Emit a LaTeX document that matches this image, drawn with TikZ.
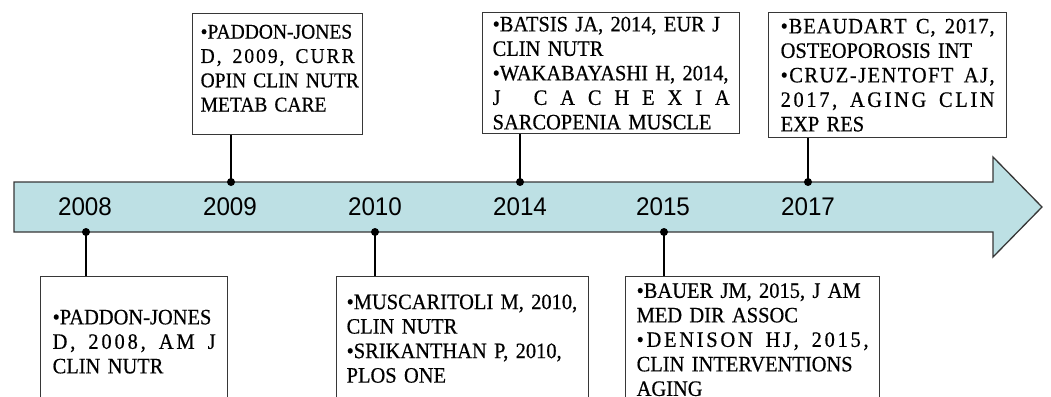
\documentclass[tikz,border=0pt]{standalone}
\usepackage{fontspec}
\setmainfont{Liberation Serif}[FakeStretch=0.93,FakeBold=0.5]
\newfontfamily\yearfont{Liberation Sans}[FakeStretch=0.95]
\setlength\parindent{0pt}
\definecolor{axisfill}{RGB}{189,224,228}
\definecolor{edgegray}{RGB}{55,55,55}
\def\spreadchars#1{\ifx#1\relax\else#1\hfill\expandafter\spreadchars\fi}
\newcommand\sline[1]{\makebox[\hsize][s]{\spreadchars#1\relax\unskip}}
\newcommand\jline[1]{\makebox[\hsize][s]{#1}}
\newcommand\lline[1]{\makebox[\hsize][l]{#1}}
\begin{document}
\begin{tikzpicture}[x=1pt,y=1pt,
  refbox/.style={draw=edgegray, line width=1.3pt, fill=white, anchor=north west,
    inner ysep=0pt, align=left, font=\fontsize{22}{24.5}\selectfont},
  yearlbl/.style={font=\yearfont\fontsize{25.5}{28}\selectfont, inner sep=0pt},
  axisarrow/.style={draw=edgegray, line width=1.3pt, fill=axisfill, line join=miter},
  conn/.style={draw=black, line width=2pt},
  dotmark/.style={fill=black}]
\useasboundingbox (0,0) rectangle (1051,-396);
\clip (0,0) rectangle (1051,-396);
% timeline arrow
\draw[axisarrow] (14,-182) -- (993,-182) -- (993,-157) -- (1042,-207) -- (993,-257) -- (993,-232) -- (14,-232) -- cycle;
% anchor points on the arrow
\coordinate (d2008) at (86,-232);
\coordinate (d2009) at (231,-182);
\coordinate (d2010) at (375,-232);
\coordinate (d2014) at (520,-182);
\coordinate (d2015) at (664,-232);
\coordinate (d2017) at (808,-182);
% years
\node[yearlbl] (y2008) at (85,-207) {2008};
\node[yearlbl] (y2009) at (230,-207) {2009};
\node[yearlbl] (y2010) at (375,-207) {2010};
\node[yearlbl] (y2014) at (520,-207) {2014};
\node[yearlbl] (y2015) at (663,-207) {2015};
\node[yearlbl] (y2017) at (808,-207) {2017};
% top boxes
\node[refbox, text width=154pt, inner xsep=8pt, minimum height=121pt,
  font=\fontsize{21}{24.3}\selectfont] (b2009) at (192,-13)
  {\lline{•PADDON-JONES}\\\sline{D,~2009,~CURR}\\\jline{OPIN CLIN NUTR}\\METAB CARE\rule[-12pt]{0pt}{0pt}};
\node[refbox, text width=237pt, inner xsep=10pt, minimum height=121pt] (b2014) at (482,-12)
  {\jline{•BATSIS JA, 2014, EUR J}\\CLIN NUTR\\\jline{•WAKABAYASHI H, 2014,}\\\sline{J~CACHEXIA}\\SARCOPENIA MUSCLE};
\node[refbox, text width=214pt, inner xsep=12pt, minimum height=125pt] (b2017) at (768,-12)
  {\sline{•BEAUDART~C,~2017,}\\OSTEOPOROSIS INT\\\sline{•CRUZ-JENTOFT~AJ,}\\\sline{2017,~AGING~CLIN}\\EXP RES};
% bottom boxes
\node[refbox, text width=163pt, inner xsep=12pt, minimum height=130pt] (b2008) at (40,-276)
  {\lline{•PADDON-JONES}\\\sline{D,~2008,~AM~J}\\CLIN NUTR};
\node[refbox, text width=232pt, inner xsep=10pt, minimum height=124pt] (b2010) at (336,-276)
  {\jline{•MUSCARITOLI M, 2010,}\\CLIN NUTR\\\jline{•SRIKANTHAN P, 2010,}\\PLOS ONE};
\node[refbox, text width=232pt, inner xsep=11pt, minimum height=126pt] (b2015) at (625,-276)
  {\jline{•BAUER JM, 2015, J AM}\\MED DIR ASSOC\\\sline{•DENISON~HJ,~2015,}\\\jline{CLIN INTERVENTIONS}\\AGING};
% connectors
\draw[conn] (b2009.south -| d2009) -- (d2009);
\draw[conn] (b2014.south -| d2014) -- (d2014);
\draw[conn] (b2017.south -| d2017) -- (d2017);
\draw[conn] (b2008.north -| d2008) -- (d2008);
\draw[conn] (b2010.north -| d2010) -- (d2010);
\draw[conn] (b2015.north -| d2015) -- (d2015);
% dots
\foreach \d in {d2008,d2009,d2010,d2014,d2015,d2017}
  \fill[dotmark] (\d) circle (4pt);
\end{tikzpicture}
\end{document}
